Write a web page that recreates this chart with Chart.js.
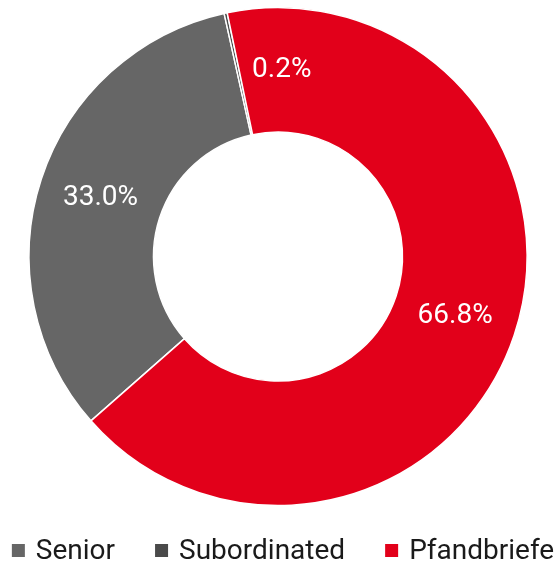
<!DOCTYPE html>
<html>
<head>
<meta charset="utf-8">
<script src="https://cdn.jsdelivr.net/npm/chart.js@4/dist/chart.umd.min.js"></script>
<style>
  html, body { margin: 0; padding: 0; background: #fff; }
  #wrap { width: 558px; height: 564px; }
</style>
</head>
<body>
<div id="wrap"><canvas id="chart-anteile"></canvas></div>
<script>
// Anteile nach Kategorie (%)
const categorias = ['Senior', 'Subordinated', 'Pfandbriefe'];
const valores = [33.0, 0.2, 66.8];
const rotulos = ['33.0%', '0.2%', '66.8%'];
const cores = ['#666666', '#4a4a4a', '#e2001a'];

// deslocamento angular do rótulo (graus), só a fatia fina precisa
const deslocRotulo = [0, 13.3, 0];

const FONTE = 'Roboto, "Liberation Sans", sans-serif';

// rótulos brancos dentro das fatias
const rotulosPlugin = {
    id: 'rotulos',
    afterDatasetsDraw(chart) {
        const ctx = chart.ctx;
        const meta = chart.getDatasetMeta(0);
        ctx.save();
        ctx.fillStyle = '#ffffff';
        ctx.font = '28px ' + FONTE;
        ctx.textAlign = 'center';
        ctx.textBaseline = 'middle';
        meta.data.forEach((arc, i) => {
            const p = arc.getProps(['x', 'y', 'startAngle', 'endAngle', 'innerRadius', 'outerRadius'], true);
            const ang = (p.startAngle + p.endAngle) / 2 + deslocRotulo[i] * Math.PI / 180;
            const r = (p.innerRadius + p.outerRadius) / 2;
            ctx.fillText(rotulos[i], p.x + Math.cos(ang) * r, p.y + Math.sin(ang) * r);
        });
        ctx.restore();
    }
};

// legenda desenhada embaixo
const legendaPlugin = {
    id: 'legenda',
    afterDraw(chart) {
        const ctx = chart.ctx;
        const caixa = 13, espaco = 11, entre = 40, yMeio = 550.5;
        ctx.save();
        ctx.font = '28px ' + FONTE;
        ctx.textBaseline = 'middle';
        const larguras = categorias.map(t => ctx.measureText(t).width);
        let total = larguras.reduce((a, w) => a + caixa + espaco + w, 0) + entre * (categorias.length - 1);
        let x = (chart.width - total) / 2 + 4;
        categorias.forEach((t, i) => {
            ctx.fillStyle = cores[i];
            ctx.fillRect(x, yMeio - caixa / 2, caixa, caixa);
            ctx.fillStyle = '#1a1a1a';
            ctx.fillText(t, x + caixa + espaco, yMeio + 1);
            x += caixa + espaco + larguras[i] + entre;
        });
        ctx.restore();
    }
};

function criarGrafico() {
    const ctx = document.getElementById('chart-anteile').getContext('2d');
    new Chart(ctx, {
        type: 'doughnut',
        data: {
            labels: categorias,
            datasets: [{
                data: valores,
                backgroundColor: cores,
                borderColor: '#ffffff',
                borderWidth: 1.5
            }]
        },
        options: {
            responsive: true,
            maintainAspectRatio: false,
            animation: false,
            rotation: 228.7,
            cutout: '50%',
            layout: { padding: { top: 6.75, bottom: 57.75, left: 0, right: 2 } },
            plugins: {
                legend: { display: false },
                tooltip: { enabled: false }
            }
        },
        plugins: [rotulosPlugin, legendaPlugin]
    });
}

window.addEventListener('DOMContentLoaded', criarGrafico);
</script>
</body>
</html>
